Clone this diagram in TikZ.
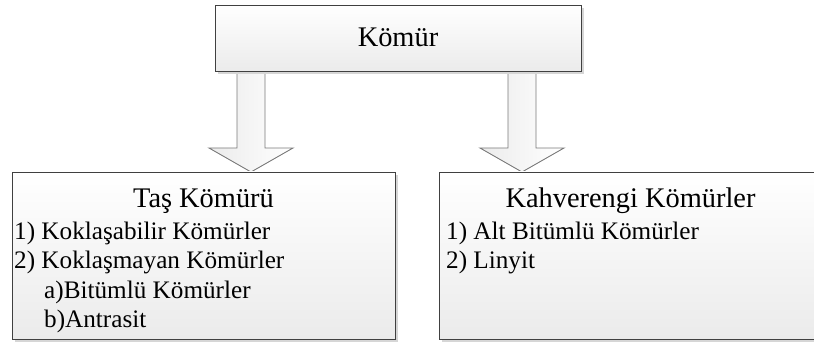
\documentclass[tikz,border=0pt]{standalone}
\usepackage{fontspec}
\setmainfont{Liberation Serif}
\usetikzlibrary{calc,shadows}
\definecolor{boxline}{HTML}{404040}
\definecolor{boxbot}{HTML}{EBEBEB}
\definecolor{arrline}{HTML}{7A7A7A}
\definecolor{shadowgray}{HTML}{D6D6D6}
\tikzset{
  box/.style={draw=boxline, line width=0.9pt, top color=white, bottom color=boxbot,
    inner sep=0pt, drop shadow={shadow xshift=3pt, shadow yshift=-3pt, fill=shadowgray, opacity=1}},
  titletext/.style={anchor=base, inner sep=0pt, font=\fontsize{28.4}{34}\selectfont},
  bodytext/.style={anchor=base west, inner sep=0pt, font=\fontsize{25.2}{30}\selectfont},
  blockarrow/.style={draw=arrline, line width=0.9pt, left color=boxbot, right color=white, line join=miter}
}
\newcommand{\blockarr}[2]{%
  \draw[blockarrow] ($(#1)+(-14,0)$) -- ($(#2)+(-14,-24)$) -- ($(#2)+(-42,-24)$) -- (#2)
    -- ($(#2)+(42,-24)$) -- ($(#2)+(14,-24)$) -- ($(#1)+(14,0)$);}
\begin{document}
\begin{tikzpicture}[x=1pt,y=-1pt]
\useasboundingbox (0,0) rectangle (814,342);
% anchor points of the block arrows
\coordinate (s1) at (251,69);
\coordinate (t1) at (251,172);
\coordinate (s2) at (522,69);
\coordinate (t2) at (522,172);
\blockarr{s1}{t1}
\blockarr{s2}{t2}
% boxes
\node[box, minimum width=366pt, minimum height=66pt] (top) at (398,38) {};
\node[box, minimum width=383pt, minimum height=167pt] (tas) at (203.5,255.5) {};
\node[box, minimum width=383pt, minimum height=167pt] (kah) at (630.5,255.5) {};
% texts
\node[titletext] (komur) at (398,47) {Kömür};
\node[titletext] (tastitle) at (203.5,207) {Taş Kömürü};
\node[bodytext] (t1a) at (14,239) {1) Koklaşabilir Kömürler};
\node[bodytext] (t1b) at (14,268.5) {2) Koklaşmayan Kömürler};
\node[bodytext] (t1c) at (44,298) {a)Bitümlü Kömürler};
\node[bodytext] (t1d) at (44,327.5) {b)Antrasit};
\node[titletext] (kahtitle) at (630.5,207) {Kahverengi Kömürler};
\node[bodytext] (k1a) at (446,239) {1) Alt Bitümlü Kömürler};
\node[bodytext] (k1b) at (446,268.5) {2) Linyit};
\end{tikzpicture}
\end{document}
